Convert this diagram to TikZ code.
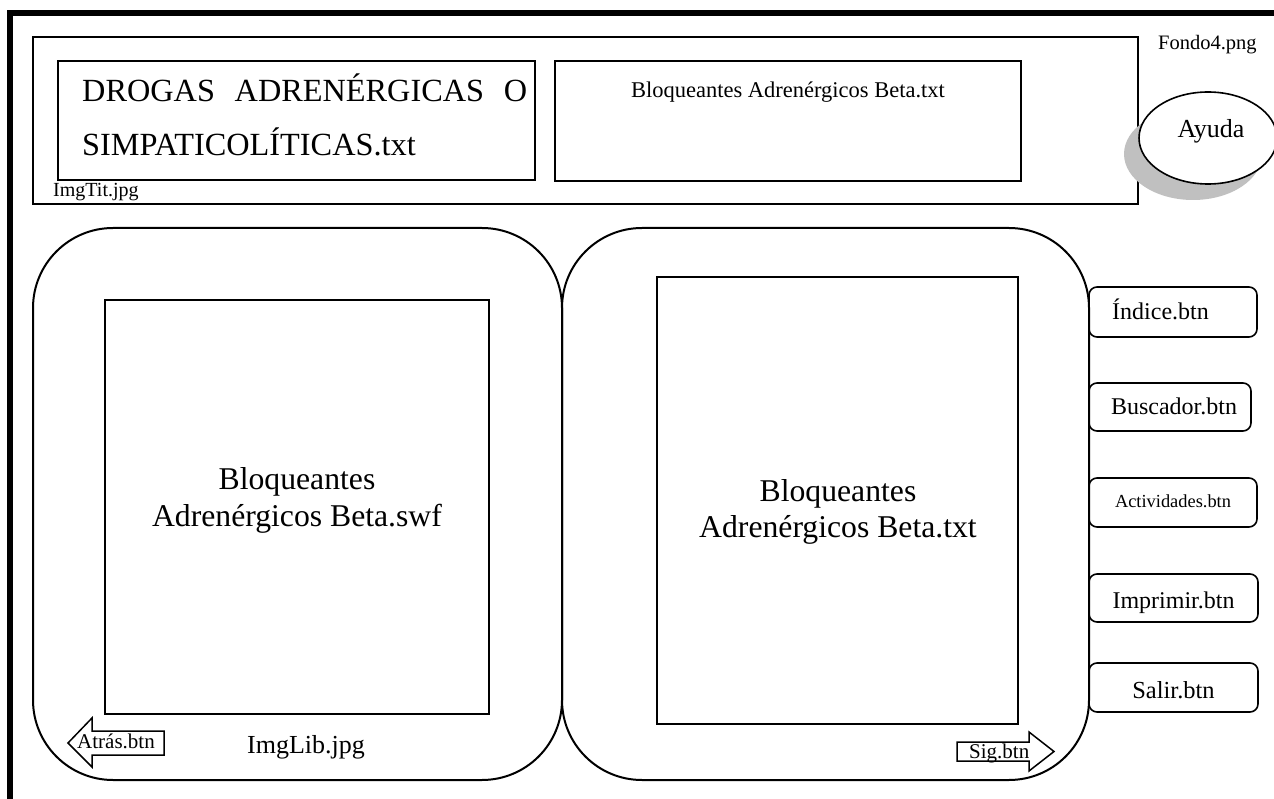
\documentclass[tikz,border=0pt]{standalone}
\usepackage{fontspec}
\setmainfont{Liberation Serif}
\usetikzlibrary{shapes.geometric}
\definecolor{shadowgray}{RGB}{192,192,192}

\newcommand{\fs}[1]{\fontsize{#1}{#1}\selectfont}

\begin{document}
\begin{tikzpicture}[x=1pt,y=-1pt,
  box/.style={draw, line width=2pt, inner sep=0pt, outer sep=0pt},
  panel/.style={box, rounded corners=80pt},
  btn/.style={draw, line width=1.6pt, rounded corners=8pt, inner sep=0pt, outer sep=0pt},
  lbl/.style={inner sep=0pt, anchor=base west},
  clbl/.style={inner sep=0pt, anchor=base},
  arrowshape/.style={draw, line width=1.5pt, line join=miter}]

\useasboundingbox (0,0) rectangle (1274,799);

% page frame (runs off the right and bottom edges)
\draw[line width=6pt] (1300,13) -- (10,13) -- (10,820);

% title strip
\node[box, minimum width=1105pt, minimum height=167pt] (imgtit) at (585.5,120.5) {};
\node[box, minimum width=477pt, minimum height=119pt] (titbox) at (296.5,120.5) {};
\node[box, minimum width=466pt, minimum height=120pt] (subbox) at (788,121) {};

\node[lbl] (tit1) at (82,102) {\fs{32.3}\makebox[445pt][s]{DROGAS ADRENÉRGICAS O}};
\node[lbl] (tit2) at (82,156) {\fs{32.3}SIMPATICOLÍTICAS.txt};
\node[clbl] (subtxt) at (788,98) {\fs{22.5}Bloqueantes Adrenérgicos Beta.txt};
\node[lbl] (imgtitlbl) at (53,197) {\fs{20}ImgTit.jpg};
\node[lbl] (fondo) at (1158,50) {\fs{20.5}Fondo4.png};

% help bubble with its shadow
\node[ellipse, fill=shadowgray, minimum width=138pt, minimum height=92pt, inner sep=0pt] (ayudash) at (1193,154) {};
\node[ellipse, draw, fill=white, line width=1.6pt, minimum width=138pt, minimum height=92pt, inner sep=0pt] (ayuda) at (1208,138) {};
\node[clbl] (ayudatxt) at (1211,138) {\fs{26}Ayuda};

% book pages
\node[panel, minimum width=529pt, minimum height=552pt] (leftpanel) at (297.5,504) {};
\node[panel, minimum width=527pt, minimum height=552pt] (rightpanel) at (825.5,504) {};
\node[box, minimum width=384pt, minimum height=414pt] (leftinner) at (297,507) {};
\node[box, minimum width=361pt, minimum height=447pt] (rightinner) at (837.5,500.5) {};

\node[clbl] (swf1) at (297,489) {\fs{31.7}Bloqueantes};
\node[clbl] (swf2) at (297,526) {\fs{31.7}Adrenérgicos Beta.swf};
\node[clbl] (txt1) at (838,501) {\fs{31.7}Bloqueantes};
\node[clbl] (txt2) at (838,537) {\fs{31.7}Adrenérgicos Beta.txt};
\node[lbl] (imglib) at (247,753) {\fs{26}ImgLib.jpg};

% navigation arrows
\coordinate (atrastip) at (68,743);
\draw[arrowshape] (atrastip) -- (92,718) -- (92,731) -- (164,731) -- (164,755)
  -- (92,755) -- (92,767) -- cycle;
\node[lbl] (atras) at (77,748) {\fs{21}Atrás.btn};

\coordinate (sigtip) at (1054,751.5);
\draw[arrowshape] (957,742) -- (1029,742) -- (1029,732) -- (sigtip) -- (1029,771)
  -- (1029,761) -- (957,761) -- cycle;
\node[lbl] (sig) at (969,758) {\fs{21}Sig.btn};

% side buttons
\node[btn, minimum width=168pt, minimum height=50pt] (indice) at (1173,312) {};
\node[lbl] (indicetxt) at (1112,320) {\fs{24}Índice.btn};
\node[btn, minimum width=162pt, minimum height=48pt] (buscador) at (1170,407) {};
\node[clbl] (buscadortxt) at (1174,414) {\fs{24}Buscador.btn};
\node[btn, minimum width=168pt, minimum height=49pt] (actividades) at (1173,502.5) {};
\node[clbl] (actividadestxt) at (1173,507) {\fs{18.4}Actividades.btn};
\node[btn, minimum width=169pt, minimum height=48pt] (imprimir) at (1173.5,598) {};
\node[clbl] (imprimirtxt) at (1173.5,608) {\fs{24}Imprimir.btn};
\node[btn, minimum width=169pt, minimum height=49pt] (salir) at (1173.5,687.5) {};
\node[clbl] (salirtxt) at (1173.5,698) {\fs{24.5}Salir.btn};

\end{tikzpicture}
\end{document}
